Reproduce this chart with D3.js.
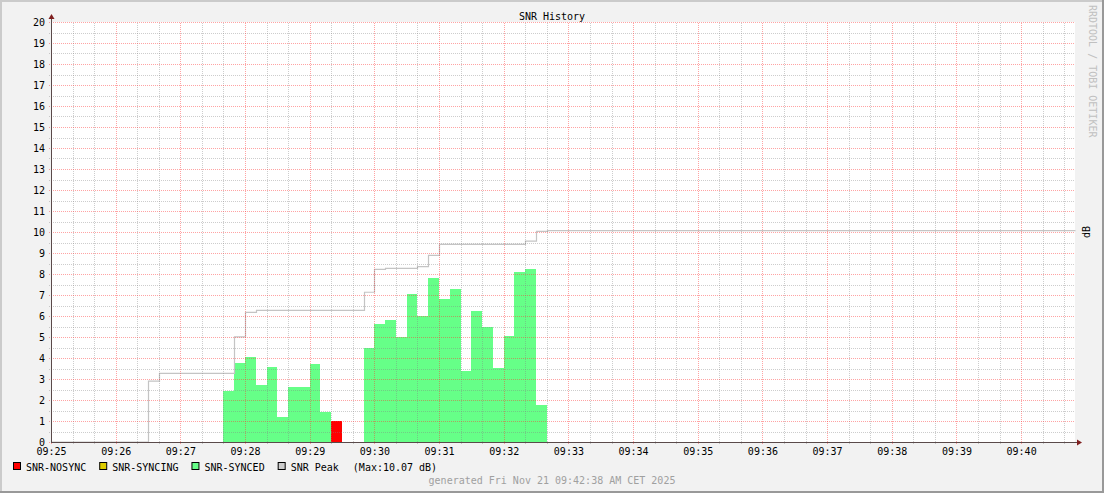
<!DOCTYPE html>
<html>
<head>
<meta charset="utf-8">
<script src="https://cdn.jsdelivr.net/npm/d3@7"></script>
<style>
body { margin: 0; background: #f2f2f2; }
</style>
</head>
<body>
<div class="chart"></div>
<script>
// samples: one every 10 s starting at 09:27:40 (null = no data)
const day = "2025-11-21";
const sampleStart = "09:27:40";
const sampleStep = 10;
const snrValues = [2.43, 3.76, 4.05, 2.73, 3.57, 1.19, 2.62, 2.62, 3.71, 1.43,
                   1.00, null, null,
                   4.48, 5.62, 5.81, 5.00, 7.05, 6.00, 7.81, 6.81, 7.29, 3.38,
                   6.24, 5.48, 3.52, 5.05, 8.10, 8.24, 1.76];
const snrStates = ["SYNCED", "SYNCED", "SYNCED", "SYNCED", "SYNCED", "SYNCED", "SYNCED", "SYNCED", "SYNCED", "SYNCED",
                   "NOSYNC", null, null,
                   "SYNCED", "SYNCED", "SYNCED", "SYNCED", "SYNCED", "SYNCED", "SYNCED", "SYNCED", "SYNCED", "SYNCED",
                   "SYNCED", "SYNCED", "SYNCED", "SYNCED", "SYNCED", "SYNCED", "SYNCED"];

// peak line (step after)
const peakTimes = ["09:25:00", "09:26:30", "09:26:40", "09:27:50", "09:28:00", "09:28:10", "09:29:50",
                   "09:30:00", "09:30:10", "09:30:40", "09:30:50", "09:31:00", "09:32:20", "09:32:30",
                   "09:32:40", "09:40:50"];
const peakValues = [0, 2.90, 3.27, 5.01, 6.17, 6.27, 7.13,
                    8.22, 8.27, 8.35, 8.89, 9.41, 9.57, 10.03,
                    10.07, 10.07];

const xTickLabels = ["09:25", "09:26", "09:27", "09:28", "09:29", "09:30", "09:31", "09:32",
                     "09:33", "09:34", "09:35", "09:36", "09:37", "09:38", "09:39", "09:40"];
const yTicks = [0, 1, 2, 3, 4, 5, 6, 7, 8, 9, 10, 11, 12, 13, 14, 15, 16, 17, 18, 19, 20];

const legendStates = ["NOSYNC", "SYNCING", "SYNCED", "PEAK"];
const legendNames = ["SNR-NOSYNC", "SNR-SYNCING", "SNR-SYNCED", "SNR Peak"];
const legendColors = ["#ff0000", "#ddcc00", "#66ff88", "#cccccc"];
const maxText = "(Max:10.07 dB)";

const parseTime = d3.timeParse("%Y-%m-%d %H:%M:%S");
const t = s => parseTime(day + " " + (s.length === 5 ? s + ":00" : s));
const color = d3.scaleOrdinal(legendStates, legendColors);

// svg
const W = 1104, H = 493;
const plot = {left: 51, right: 1075, top: 22, bottom: 442};
const font = "DejaVu Sans Mono, monospace";

const svg = d3.select(".chart").append("svg")
    .attr("width", W)
    .attr("height", H)
    .style("display", "block");

// background + shaded border
svg.append("rect").attr("width", W).attr("height", H).attr("fill", "#f2f2f2");
svg.append("path").attr("fill", "#cbcbcb")
    .attr("d", `M0,0H${W}V2H2V${H}H0Z`);
svg.append("path").attr("fill", "#999999")
    .attr("d", `M${W},${H}H0V${H - 2}H${W - 2}V0H${W}Z`);

svg.append("rect")
    .attr("x", plot.left).attr("y", plot.top)
    .attr("width", plot.right - plot.left)
    .attr("height", plot.bottom - plot.top)
    .attr("fill", "white");

// scales
const x = d3.scaleTime()
    .domain([t("09:25:00"), t("09:40:50")])
    .range([plot.left, plot.right]);
const y = d3.scaleLinear()
    .domain([0, 20])
    .range([plot.bottom, plot.top]);

// samples -> records
const t0 = t(sampleStart);
const samples = snrValues.map((v, i) => ({
    start: d3.timeSecond.offset(t0, i * sampleStep),
    end: d3.timeSecond.offset(t0, (i + 1) * sampleStep),
    value: v,
    state: snrStates[i]
})).filter(d => d.value != null);

// bars
svg.append("g")
    .attr("shape-rendering", "crispEdges")
    .selectAll("rect")
    .data(samples)
    .join("rect")
    .attr("x", d => Math.round(x(d.start)))
    .attr("width", d => Math.round(x(d.end)) - Math.round(x(d.start)))
    .attr("y", d => y(d.value))
    .attr("height", d => y(0) - y(d.value))
    .attr("fill", d => color(d.state));

// peak line
const peak = peakTimes.map((s, i) => ({time: t(s), value: peakValues[i]}));
svg.append("path")
    .datum(peak)
    .attr("fill", "none")
    .attr("stroke", "#c4c4c4")
    .attr("stroke-width", 1.2)
    .attr("d", d3.line()
        .curve(d3.curveStepAfter)
        .x(d => Math.round(x(d.time)) + 0.5)
        .y(d => y(d.value)));

// grid on top (dotted: grey every 20 s / 0.5, red every minute / 1)
const minorX = d3.timeSecond.every(20).range(x.domain()[0], x.domain()[1])
    .filter(d => d.getSeconds() !== 0);
const majorX = xTickLabels.map(t);
const minorY = d3.range(0.5, 20, 1);
const minorColor = "rgba(130,130,130,0.4)";
const majorColor = "rgba(255,50,50,0.45)";

const gridMinor = svg.append("g")
    .attr("stroke", minorColor)
    .attr("stroke-dasharray", "1,1");
gridMinor.selectAll("line.vx")
    .data(minorX)
    .join("line")
    .attr("class", "vx")
    .attr("x1", d => Math.round(x(d)) + 0.5).attr("x2", d => Math.round(x(d)) + 0.5)
    .attr("y1", plot.bottom + 2).attr("y2", plot.top);
gridMinor.selectAll("line.hy")
    .data(minorY)
    .join("line")
    .attr("class", "hy")
    .attr("x1", plot.left - 2).attr("x2", plot.right)
    .attr("y1", d => Math.round(y(d)) + 0.5).attr("y2", d => Math.round(y(d)) + 0.5);

const gridMajor = svg.append("g")
    .attr("stroke", majorColor)
    .attr("stroke-dasharray", "1,1");
gridMajor.selectAll("line.vx")
    .data(majorX)
    .join("line")
    .attr("class", "vx")
    .attr("x1", d => Math.round(x(d)) + 0.5).attr("x2", d => Math.round(x(d)) + 0.5)
    .attr("y1", plot.bottom + 2).attr("y2", plot.top);
gridMajor.selectAll("line.hy")
    .data(yTicks)
    .join("line")
    .attr("class", "hy")
    .attr("x1", plot.left - 2).attr("x2", plot.right)
    .attr("y1", d => Math.round(y(d)) + 0.5).attr("y2", d => Math.round(y(d)) + 0.5);

// axes lines + arrows
const ax = svg.append("g").attr("shape-rendering", "crispEdges");
ax.append("line")
    .attr("x1", plot.left).attr("x2", plot.right + 2)
    .attr("y1", y(0) + 0.5).attr("y2", y(0) + 0.5)
    .attr("stroke", "#5a4a4a");
ax.append("line")
    .attr("x1", plot.left + 0.5).attr("x2", plot.left + 0.5)
    .attr("y1", plot.bottom).attr("y2", plot.top - 3)
    .attr("stroke", "#5a4a4a");
svg.append("path")
    .attr("fill", "#7f1f1f")
    .attr("d", `M${plot.right + 2},${y(0) - 2.5}L${plot.right + 7},${y(0) + 0.5}L${plot.right + 2},${y(0) + 3.5}Z`);
svg.append("path")
    .attr("fill", "#7f1f1f")
    .attr("d", `M${plot.left - 2.5},${plot.top - 3}L${plot.left + 0.5},${plot.top - 8}L${plot.left + 3.5},${plot.top - 3}Z`);

// tick labels
const xAxis = d3.axisBottom(x)
    .tickValues(majorX)
    .tickSize(0)
    .tickPadding(6)
    .tickFormat(d3.timeFormat("%H:%M"));
const yAxis = d3.axisLeft(y)
    .tickValues(yTicks)
    .tickSize(0)
    .tickPadding(6);

svg.append("g")
    .attr("transform", `translate(0,${plot.bottom})`)
    .call(xAxis)
    .call(g => g.select(".domain").remove())
    .attr("font-family", font)
    .attr("font-size", 10)
    .selectAll("text").attr("fill", "#000");

svg.append("g")
    .attr("transform", `translate(${plot.left},0)`)
    .call(yAxis)
    .call(g => g.select(".domain").remove())
    .attr("font-family", font)
    .attr("font-size", 10)
    .selectAll("text").attr("fill", "#000").attr("dy", "0.35em");

// title, unit, watermark, footer
const txt = svg.append("g").attr("font-family", font).attr("font-size", 10);
txt.append("text")
    .attr("x", W / 2).attr("y", 20)
    .attr("text-anchor", "middle")
    .text("SNR History");
txt.append("text")
    .attr("transform", `translate(1089.5,${(plot.top + plot.bottom) / 2}) rotate(-90)`)
    .attr("text-anchor", "middle")
    .text("dB");
txt.append("text")
    .attr("transform", "translate(1089,5) rotate(90)")
    .attr("fill", "#c0c0c0")
    .text("RRDTOOL / TOBI OETIKER");
txt.append("text")
    .attr("x", W / 2).attr("y", 483.5)
    .attr("text-anchor", "middle")
    .attr("fill", "#a0a0a0")
    .text("generated Fri Nov 21 09:42:38 AM CET 2025");

// legend
let lx = 13;
legendNames.forEach((name, i) => {
    txt.append("rect")
        .attr("x", lx + 0.5).attr("y", 462.5)
        .attr("width", 7).attr("height", 7)
        .attr("fill", legendColors[i])
        .attr("stroke", "#000");
    const label = txt.append("text")
        .attr("x", lx + 13).attr("y", 470.5)
        .text(name);
    lx = lx + 13 + label.node().getComputedTextLength() + 13;
});
txt.append("text")
    .attr("x", lx + 1).attr("y", 470.5)
    .text(maxText);
</script>
</body>
</html>
